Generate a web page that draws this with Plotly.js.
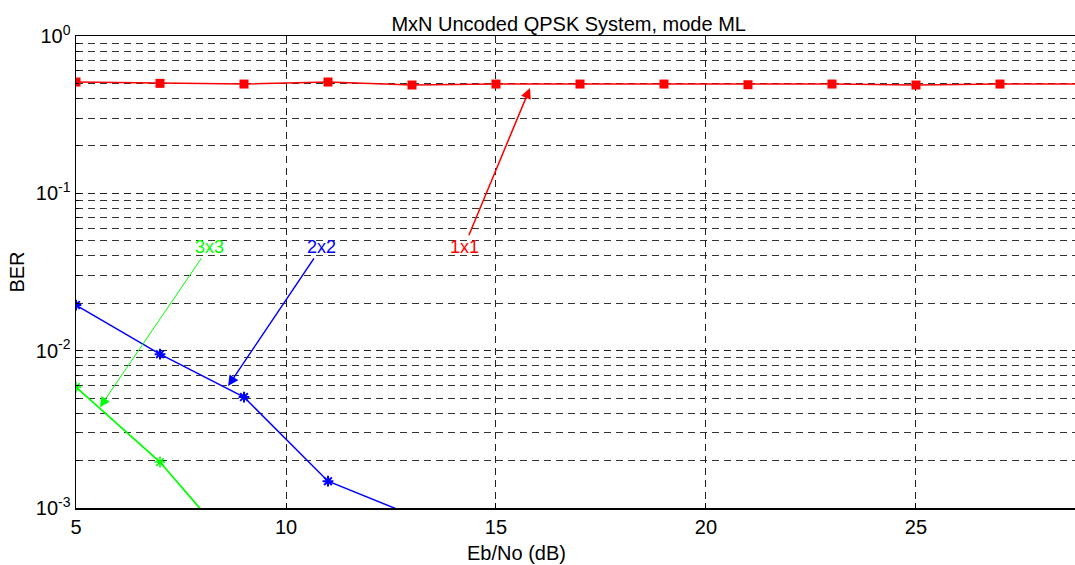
<!DOCTYPE html>
<html><head><meta charset="utf-8">
<script src="https://cdn.plot.ly/plotly-3.0.1.min.js"></script>
<style>html,body{margin:0;padding:0;background:#fff}#plot{width:1075px;height:565px}</style>
</head><body><div id="plot"></div>
<script>
// data
const ebno1 = [5,7,9,11,13,15,17,19,21,23,25,27,29];
const ber1x1 = [0.51,0.50,0.495,0.51,0.488,0.495,0.495,0.495,0.49,0.495,0.488,0.495,0.495];
const ebno2 = [5,7,9,11,13];
const ber2x2 = [0.0195,0.0095,0.00507,0.00148,0.0009];
const ebno3 = [5,7,9];
const ber3x3 = [0.00587,0.00196,0.00047];
const yTickVals = [1,0.1,0.01,0.001];
const yTickText = ['10<sup>0</sup>','10<sup>-1</sup>','10<sup>-2</sup>','10<sup>-3</sup>'];
const xTickVals = [5,10,15,20,25];
const labels = ['1x1','2x2','3x3'];
const colors = ['#ff0000','#0000ff','#00ff00'];
const xLabel = 'Eb/No (dB)';
// annotation arrow heads and label positions (x in dB, y as log10 BER)
const headX = [15.81,8.62,5.57];
const headY = [-0.331,-2.225,-2.359];
const textX = [14.24,10.85,8.17];
const textY = [-1.34,-1.34,-1.34];

const traces = [
  {x:ebno1,y:ber1x1,mode:'lines+markers',line:{color:colors[0],width:1.5},
   marker:{symbol:'square',size:9,color:colors[0]},cliponaxis:true},
  {x:ebno2,y:ber2x2,mode:'lines+markers',line:{color:colors[1],width:1.5},
   marker:{symbol:'asterisk-open',size:9,line:{color:colors[1],width:2}},cliponaxis:true},
  {x:ebno3,y:ber3x3,mode:'lines+markers',line:{color:colors[2],width:1.8},
   marker:{symbol:'asterisk-open',size:9,line:{color:colors[2],width:1.5}},cliponaxis:true}
];

const annotations = labels.map((t,i)=>({
  x:headX[i],y:headY[i],xref:'x',yref:'y',ax:textX[i],ay:textY[i],axref:'x',ayref:'y',
  text:t,showarrow:true,arrowhead:2,arrowsize:i===2?2:1.4,arrowwidth:i===2?1:1.5,arrowcolor:colors[i],
  font:{family:'Liberation Sans, Arial, sans-serif',size:18,color:colors[i]}
}));
annotations.push({text:xLabel,xref:'paper',yref:'paper',x:0.4414,y:-0.096,xanchor:'center',yanchor:'middle',
  showarrow:false,font:{family:'Liberation Sans, Arial, sans-serif',size:20,color:'#000'}});

const grid = {griddash:'7px,5px',gridcolor:'#222',gridwidth:1};
const layout = {
  width:1075,height:565,
  margin:{l:76,r:0,t:36,b:57},
  paper_bgcolor:'#fff',plot_bgcolor:'#fff',
  showlegend:false,
  font:{family:'Liberation Sans, Arial, sans-serif',size:20,color:'#000'},
  title:{text:'MxN Uncoded QPSK System, mode ML',x:0.529,xanchor:'center',y:0.957,yanchor:'middle',
    font:{size:20,color:'#000'}},
  xaxis:Object.assign({range:[5,28.786],tickvals:xTickVals,ticks:'inside',ticklen:5,tickcolor:'#000',
    showline:true,linecolor:'#000',linewidth:1.5,mirror:true,showgrid:true,zeroline:false,automargin:false},grid),
  yaxis:Object.assign({type:'log',range:[-3,0],tickvals:yTickVals,ticktext:yTickText,ticks:'inside',ticklen:5,
    tickcolor:'#000',showline:true,linecolor:'#000',linewidth:1.5,showgrid:true,zeroline:false,automargin:false,
    minor:{dtick:'D1',ticks:'inside',ticklen:3,tickcolor:'#000',showgrid:true,griddash:'7px,5px',gridcolor:'#333',gridwidth:1},
    title:{text:'BER',standoff:6,font:{size:20}}},grid),
  annotations:annotations
};
Plotly.newPlot('plot',traces,layout,{displayModeBar:false,staticPlot:true});
</script></body></html>
